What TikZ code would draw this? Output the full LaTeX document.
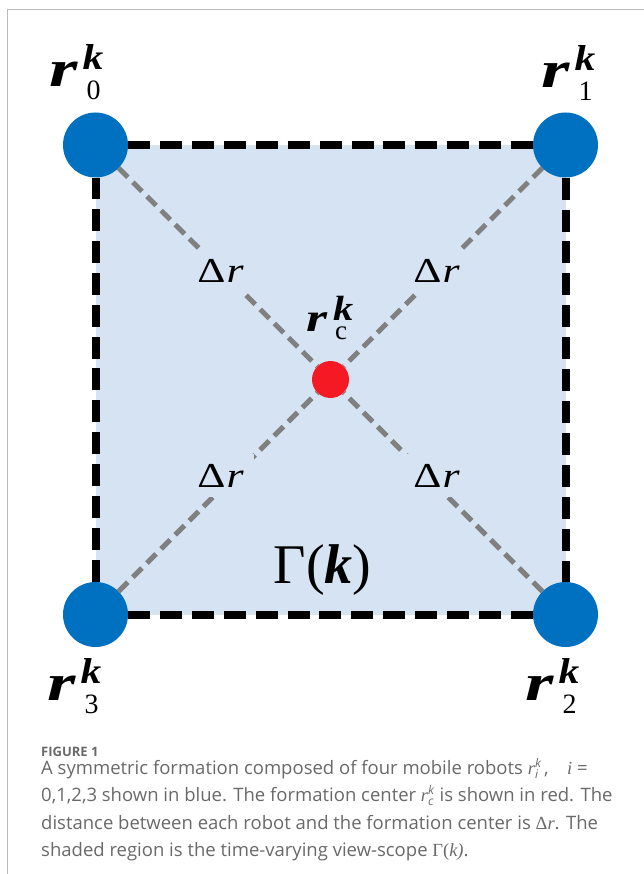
\documentclass[tikz,border=0pt]{standalone}
\usepackage{fontspec}
\setmainfont{Liberation Serif}
\newfontfamily\capfont{Open Sans}
\newfontfamily\labfont{Liberation Serif}
\usetikzlibrary{backgrounds}
\definecolor{shadeblue}{RGB}{214,227,242}
\definecolor{robotblue}{RGB}{0,112,192}
\definecolor{centerred}{RGB}{245,25,35}
\definecolor{diaggray}{RGB}{128,128,128}
\definecolor{captxt}{RGB}{105,105,105}
\definecolor{framegray}{RGB}{185,185,185}
% big label r_sub^k
\newcommand\biglab[1]{{\fontsize{52pt}{52pt}\selectfont\bfseries\itshape\scalebox{1.4}[1]{r}}\kern5pt\rlap{\raisebox{17pt}{\fontsize{36pt}{36pt}\selectfont\bfseries\itshape\scalebox{1.15}[1]{k}}}\raisebox{-13pt}{\kern4pt\fontsize{28pt}{28pt}\selectfont #1}}
\newcommand\dr{{\fontsize{35pt}{35pt}\selectfont\scalebox{1.25}[1]{Δ\kern1pt\itshape r}}}
\newcommand\capr[1]{{\labfont\itshape r}\rlap{\raisebox{7pt}{\fontsize{12pt}{12pt}\selectfont\itshape k}}\raisebox{-4pt}{\fontsize{12pt}{12pt}\selectfont\itshape #1}\kern6pt}
\tikzset{
  robotnode/.style={circle, fill=robotblue, minimum size=65pt, inner sep=0pt},
  centernode/.style={circle, fill=centerred, minimum size=37pt, inner sep=0pt},
  diagline/.style={draw=diaggray, line width=5pt, dash pattern=on 13pt off 7pt},
  borderline/.style={draw=black, line width=8pt, dash pattern=on 22pt off 9.9pt},
  lab/.style={inner sep=0pt, text=black},
  drlab/.style={fill=shadeblue, inner sep=10pt, text=black, anchor=base},
  captext/.style={inner sep=0pt, anchor=base west, text=captxt, font=\capfont\fontsize{18.5pt}{18.5pt}\selectfont},
}
\begin{document}
\begin{tikzpicture}[x=1pt,y=-1pt]
\useasboundingbox (0,0) rectangle (644,874);
\draw[framegray, line width=1pt] (7.5,874) -- (7.5,9.5) -- (644,9.5);

\node[robotnode] (c0) at (95.5,145) {};
\node[robotnode] (c1) at (565.5,145) {};
\node[robotnode] (c2) at (565.5,614.5) {};
\node[robotnode] (c3) at (95.5,614.5) {};
\node[centernode] (cc) at (330.5,379.5) {};

\begin{scope}[on background layer]
  \fill[shadeblue] (c0.center) rectangle (c2.center);
  \draw[diagline] (c0) -- (cc);
  \draw[diagline] (c1) -- (cc);
  \draw[diagline] (c2) -- (cc);
  \draw[diagline] (c3) -- (cc);
  \draw[borderline] (c0) -- (c1);
  \draw[borderline] (c1) -- (c2);
  \draw[borderline] (c2) -- (c3);
  \draw[borderline] (c3) -- (c0);
\end{scope}

\node[lab, anchor=base west] (l0) at (49,87) {\biglab{0}};
\node[lab, anchor=base west] (l1) at (541,88) {\biglab{1}};
\node[lab, anchor=base west] (l3) at (47,700) {\biglab{3}};
\node[lab, anchor=base west] (l2) at (525,700) {\biglab{2}};

\node[drlab] (d0) at (220.5,283) {\dr};
\node[drlab] (d1) at (436.5,283) {\dr};
\node[drlab] (d3) at (220.5,487) {\dr};
\node[drlab] (d2) at (436.5,487) {\dr};

\node[lab, anchor=base west] (lc) at (306,331) {{\fontsize{40pt}{40pt}\selectfont\bfseries\itshape\scalebox{1.35}[1]{r}}\kern6pt\rlap{\raisebox{11pt}{\fontsize{35pt}{35pt}\selectfont\bfseries\itshape\scalebox{1.15}[1]{k}}}\raisebox{-8pt}{\kern2pt\fontsize{27pt}{27pt}\selectfont c}};

\node[lab, anchor=base] (gam) at (322.5,583) {\fontsize{56pt}{56pt}\selectfont Γ({\bfseries\itshape k})};

\node[captext, font=\capfont\bfseries\fontsize{13pt}{13pt}\selectfont] (fig) at (41,756) {FIGURE 1};
\node[captext] (cap1) at (41,774) {A symmetric formation composed of four mobile robots \capr{i},\quad{\labfont\itshape i} =};
\node[captext] (cap2) at (41,801.5) {0,1,2,3 shown in blue. The formation center \capr{c}is shown in red. The};
\node[captext] (cap3) at (41,829) {distance between each robot and the formation center is {\labfont Δ\itshape r}. The};
\node[captext] (cap4) at (41,856.5) {shaded region is the time-varying view-scope {\labfont Γ(\itshape k)}.};
\end{tikzpicture}
\end{document}
